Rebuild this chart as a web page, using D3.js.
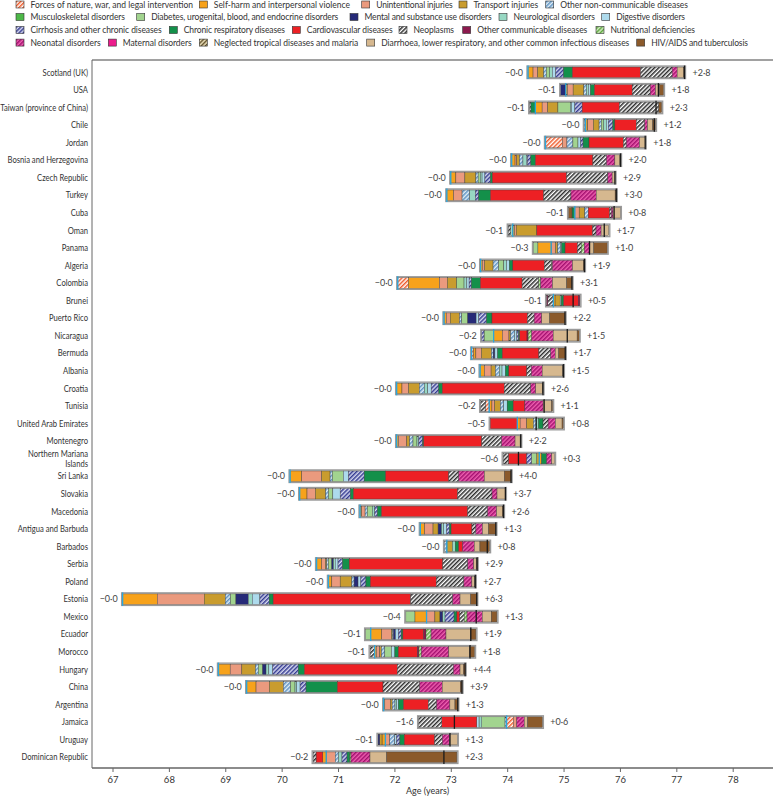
<!DOCTYPE html>
<html><head><meta charset="utf-8">
<script src="https://cdn.jsdelivr.net/npm/d3@7"></script>
<style>body{margin:0;background:#fff;}svg{display:block;font-family:Lato,"Open Sans",sans-serif;}</style>
</head><body><svg id="c" width="773" height="796"></svg>
<script>
// ---- data ----
const causeKeys = ["forces","self","unint","trans","oncd","musc","diab","ment","neur","dig","cirr","resp","cvd","neo","ocd","nutr","neon","mat","ntd","diar","hiv"];
const causeNames = ["Forces of nature, war, and legal intervention","Self-harm and interpersonal violence","Unintentional injuries","Transport injuries","Other non-communicable diseases","Musculoskeletal disorders","Diabetes, urogenital, blood, and endocrine disorders","Mental and substance use disorders","Neurological disorders","Digestive disorders","Cirrhosis and other chronic diseases","Chronic respiratory diseases","Cardiovascular diseases","Neoplasms","Other communicable diseases","Nutritional deficiencies","Neonatal disorders","Maternal disorders","Neglected tropical diseases and malaria","Diarrhoea, lower respiratory, and other common infectious diseases","HIV/AIDS and tuberculosis"];
const countries = ["Scotland (UK)","USA","Taiwan (province of China)","Chile","Jordan","Bosnia and Herzegovina","Czech Republic","Turkey","Cuba","Oman","Panama","Algeria","Colombia","Brunei","Puerto Rico","Nicaragua","Bermuda","Albania","Croatia","Tunisia","United Arab Emirates","Montenegro","Northern Mariana Islands","Sri Lanka","Slovakia","Macedonia","Antigua and Barbuda","Barbados","Serbia","Poland","Estonia","Mexico","Ecuador","Morocco","Hungary","China","Argentina","Jamaica","Uruguay","Dominican Republic"];
// life expectancy at which the gains start (blue marker)
const baseline = [74.37,75.04,74.50,75.39,74.68,74.08,73.00,72.93,75.20,74.10,74.78,73.53,72.06,74.82,72.88,73.76,73.37,73.52,72.04,73.68,74.18,72.04,74.57,70.15,70.32,71.39,72.46,72.93,70.62,70.83,67.18,72.57,71.58,71.65,68.88,69.38,71.81,73.99,71.84,70.79];
const negTotals = [0.0,0.1,0.1,0.0,0.0,0.0,0.0,0.0,0.1,0.1,0.3,0.0,0.0,0.1,0.0,0.2,0.0,0.0,0.0,0.2,0.5,0.0,0.6,0.0,0.0,0.0,0.0,0.0,0.0,0.0,0.0,0.4,0.1,0.1,0.0,0.0,0.0,1.6,0.1,0.2];
const posTotals = [2.8,1.8,2.3,1.2,1.8,2.0,2.9,3.0,0.8,1.7,1.0,1.9,3.1,0.5,2.2,1.5,1.7,1.5,2.6,1.1,0.8,2.2,0.3,4.0,3.7,2.6,1.3,0.8,2.9,2.7,6.3,1.3,1.9,1.8,4.4,3.9,1.3,0.6,1.3,2.3];
// gains by cause (years)
const gains = [
 {self:.089,unint:.083,trans:.106,oncd:.047,diab:.059,neur:.047,dig:.059,cirr:.142,resp:.154,cvd:1.21,neo:.56,neon:.089,diar:.112,hiv:.018},
 {self:.03,unint:.10,trans:.19,oncd:.047,neur:.035,dig:.035,resp:.07,cvd:.67,neo:.32,neon:.095,diar:.07,hiv:.07},
 {self:.12,unint:.10,trans:.18,diab:.22,neur:.02,dig:.06,cirr:.13,cvd:.66,neo:.70,hiv:.05},
 {self:.04,unint:.10,trans:.10,oncd:.04,diab:.04,neur:.05,dig:.035,cirr:.08,resp:.035,cvd:.38,neo:.15,neon:.05,diar:.09,hiv:.05},
 {forces:.30,unint:.08,oncd:.106,diab:.09,dig:.05,cirr:.04,resp:.106,cvd:.61,neo:.05,neon:.236,diar:.10},
 {self:.06,unint:.03,trans:.05,oncd:.06,neur:.06,dig:.02,cirr:.06,resp:.08,cvd:1.02,neo:.24,neon:.15,diar:.09,hiv:.01},
 {self:.09,unint:.16,trans:.195,oncd:.04,diab:.04,neur:.03,dig:.05,cirr:.10,resp:.03,cvd:1.32,neo:.73,neon:.077,diar:.05},
 {self:.12,unint:.15,oncd:.136,neur:.10,cirr:.06,resp:.207,cvd:.944,neo:.484,neon:.448,diar:.336,hiv:.02},
 {unint:.077,trans:.10,oncd:.06,cvd:.38,neo:.03,neon:.03,diar:.13},
 {self:.03,unint:.03,trans:.366,cvd:.99,neo:.06,neon:.09,diar:.136},
 {unint:.077,trans:.04,oncd:.05,dig:.02,resp:.06,cvd:.22,neo:.07,nutr:.05,neon:.10,diar:.07,hiv:.236},
 {self:.03,unint:.04,trans:.15,oncd:.10,diab:.09,neur:.05,dig:.05,resp:.06,cvd:.56,neo:.13,nutr:.01,neon:.36,diar:.19,hiv:.02},
 {forces:.19,self:.55,unint:.14,trans:.165,diab:.13,neur:.05,dig:.04,cirr:.04,resp:.16,cvd:.74,neo:.295,nutr:.035,neon:.21,diar:.25,hiv:.094},
 {self:.03,trans:.09,neur:.02,resp:.04,cvd:.26,ocd:.03},
 {self:.04,unint:.07,trans:.165,oncd:.04,diab:.106,ment:.148,dig:.047,cirr:.14,resp:.094,cvd:.63,neo:.118,neon:.136,diar:.142,hiv:.27},
 {self:.154,unint:.118,trans:.03,oncd:.07,dig:.04,cirr:.03,resp:.02,cvd:.13,ocd:.02,nutr:.06,neon:.384,diar:.425,hiv:.035},
 {forces:.035,self:.04,unint:.10,trans:.177,oncd:.03,ment:.03,dig:.05,resp:.08,cvd:.65,neo:.21,neon:.08,diar:.06,hiv:.118},
 {self:.077,unint:.118,trans:.077,oncd:.07,neur:.047,dig:.06,resp:.06,cvd:.32,neo:.077,neon:.195,diar:.366,hiv:.01},
 {self:.094,unint:.118,trans:.19,oncd:.09,neur:.06,dig:.06,cirr:.136,resp:.06,cvd:1.10,neo:.47,neon:.089,diar:.118,hiv:.01},
 {self:.05,unint:.05,trans:.10,oncd:.06,dig:.06,resp:.106,cvd:.207,neon:.325,diar:.148,hiv:.02},
 {self:.05,unint:.118,trans:.118,oncd:.05,neur:.04,resp:.08,neo:.09,neon:.13,diar:.118,hiv:.02},
 {self:.03,unint:.15,trans:.05,oncd:.06,diab:.07,neur:.03,cirr:.07,resp:.02,cvd:1.03,neo:.35,neon:.24,diar:.09,hiv:.01},
 {self:.04,resp:.09,neon:.09,diar:.05},
 {self:.207,unint:.354,trans:.148,oncd:.04,diab:.195,dig:.09,cirr:.28,resp:.38,cvd:1.12,neo:.177,neon:.455,diar:.355,hiv:.118},
 {self:.13,unint:.148,trans:.183,oncd:.05,diab:.077,dig:.13,cirr:.183,resp:.05,cvd:1.85,neo:.61,neon:.089,diar:.148},
 {self:.03,unint:.06,oncd:.04,diab:.09,neur:.04,cirr:.05,resp:.07,cvd:1.53,neo:.354,neon:.16,diar:.10,hiv:.02},
 {self:.077,unint:.148,trans:.09,ment:.06,neur:.04,dig:.05,cirr:.05,resp:.03,cvd:.37,neo:.07,neon:.118,diar:.106,hiv:.13},
 {trans:.10,neur:.05,resp:.06,cvd:.07,neon:.207,diar:.10,hiv:.17},
 {self:.09,unint:.07,trans:.02,oncd:.03,diab:.06,ment:.03,neur:.03,dig:.05,cirr:.08,resp:.118,cvd:1.66,neo:.443,neon:.106,diar:.05,hiv:.01},
 {self:.06,unint:.148,trans:.207,oncd:.04,ment:.07,dig:.05,cirr:.09,resp:.077,cvd:1.17,neo:.49,neon:.142,diar:.05,hiv:.01},
 {self:.614,unint:.833,trans:.372,oncd:.095,diab:.095,ment:.219,neur:.07,dig:.136,cirr:.165,resp:.07,cvd:2.44,neo:.745,neon:.13,diar:.19,hiv:.106},
 {unint:.148,trans:.09,ment:.05,neur:.04,cirr:.16,resp:.05,cvd:.05,neo:.08,nutr:.05,neon:.27,diar:.16,hiv:.10},
 {self:.195,unint:.17,trans:.02,oncd:.02,ment:.035,dig:.05,cirr:.05,resp:.03,cvd:.37,ocd:.04,nutr:.09,neon:.265,diar:.44,hiv:.09},
 {self:.03,unint:.06,trans:.03,oncd:.06,diab:.118,dig:.06,resp:.06,cvd:.337,ocd:.03,nutr:.04,neon:.49,diar:.366,hiv:.09},
 {self:.207,unint:.207,trans:.242,oncd:.05,diab:.077,ment:.06,neur:.05,dig:.068,cirr:.455,resp:.106,cvd:1.65,neo:.994,neon:.118,diar:.06,hiv:.03},
 {self:.166,unint:.236,trans:.248,oncd:.13,diab:.077,neur:.03,dig:.06,cirr:.106,resp:.555,cvd:.81,neo:.65,neon:.40,diar:.32,hiv:.03},
 {self:.02,unint:.10,trans:.03,oncd:.05,neur:.03,dig:.03,resp:.09,cvd:.44,neo:.148,neon:.236,diar:.09,hiv:.05},
 {forces:.118,unint:.06,neon:.136,diar:.06,hiv:.26},
 {unint:.077,oncd:.09,dig:.03,cirr:.06,resp:.077,cvd:.54,neo:.136,neon:.13,diar:.136},
 {unint:.16,oncd:.06,neur:.06,cirr:.09,resp:.05,nutr:.02,neon:.337,diar:.295,hiv:1.246}
];
// losses by cause (years, negative)
const losses = [
 {},{ment:-.09},{resp:-.08,neo:-.02},{oncd:-.02},{},{},{},{},{resp:-.05,hiv:-.06},{neur:-.04,neo:-.04},
 {self:-.236,diab:-.077},{},{},{neo:-.10,ocd:-.02},{},{diab:-.17,cirr:-.04},{},{},{},{forces:-.06,neo:-.09},
 {cvd:-.48},{},{trans:-.05,diab:-.09,cirr:-.09,cvd:-.32,neo:-.09},{},{},{},{},{oncd:-.04},{},{},
 {},{self:-.207,diab:-.16},{diab:-.09},{neo:-.08},{},{},{},{oncd:-.03,diab:-.41,neur:-.05,dig:-.04,cvd:-.62,neo:-.41},{self:-.06,trans:-.04,ment:-.03},{self:-.06,cvd:-.12,neo:-.05}
];
const xTicks = [67,68,69,70,71,72,73,74,75,76,77,78];

// ---- styles ----
const solid = {self:"#F7A21B",unint:"#EA9A7E",trans:"#C99C2E",musc:"#4DB848",diab:"#A2D48F",ment:"#262A78",neur:"#98D8C3",dig:"#ADDAEC",resp:"#13904A",cvd:"#ED2024",ocd:"#8C1A4E",mat:"#EC1C8C",diar:"#D6B88F",hiv:"#8B5A2B"};
const hatch = {forces:["#ffffff","#EF5B2B"],oncd:["#E0EDF6","#5F93C2"],cirr:["#D8DBF0","#363C92"],neo:["#ffffff","#2a2a2a"],nutr:["#D9EDC9","#5BA83D"],neon:["#EE60B0","#A3106F"],ntd:["#F6EAC4","#5E4E28"]};

(function draw(){
const svg = d3.select("#c");
const defs = svg.append("defs");
Object.entries(hatch).forEach(([k,[bg,fg]])=>{
  const p = defs.append("pattern").attr("id","h-"+k).attr("patternUnits","userSpaceOnUse")
    .attr("width",3).attr("height",3).attr("patternTransform","rotate(45)");
  p.append("rect").attr("width",3).attr("height",3).attr("fill",bg);
  p.append("rect").attr("width",1.5).attr("height",3).attr("fill",fg);
});
const fillOf = k => hatch[k] ? `url(#h-${k})` : solid[k];
const condenseNode = (node, f) => {
  const L = node.getComputedTextLength();
  if (L > 0) d3.select(node).attr("textLength", L*f).attr("lengthAdjust","spacingAndGlyphs");
};

const x = d3.scaleLinear().domain([67,78]).range([112.5,732.7]);
const y = d3.scalePoint().domain(countries).range([72.3,757.2]);
const barH = 10.5;
const fmt = v => v.toFixed(1).replace(".","·");

// ---- legend: [cause index, swatch x, text end x] ----
const legendRows = [
  [[0,16,193],[1,199.3,350],[2,361.7,452.7],[3,459,538.3],[4,545.7,688]],
  [[5,16,125],[6,136.7,338.3],[7,350,491.7],[8,499,595],[9,601.7,685]],
  [[10,16,161.7],[11,169.3,285],[12,292.3,392.7],[13,399,454],[14,462.7,587.3],[15,596,695]],
  [[16,16,100.7],[17,108.3,191.7],[18,199.3,358.3],[19,366.7,629.3],[20,636.7,748]]
];
const legendY = [4.5,17,30,42.6];
const lg = svg.append("g");
legendRows.forEach((row,ri)=>row.forEach(([ci,lx,ex])=>{
  lg.append("rect").attr("x",lx).attr("y",legendY[ri]-3.5).attr("width",8).attr("height",7)
    .attr("fill",fillOf(causeKeys[ci])).attr("stroke","#333").attr("stroke-width",0.6);
  lg.append("text").attr("x",lx+14.5).attr("y",legendY[ri]+3).attr("font-size",8.5).attr("fill","#333")
    .attr("textLength",ex-(lx+14.5)).attr("lengthAdjust","spacing")
    .text(causeNames[ci]);
}));

// ---- frame ----
const fL = 92, fR = 773, fT = 60, fB = 768;
svg.append("line").attr("x1",fL).attr("x2",fR).attr("y1",fT).attr("y2",fT).attr("stroke","#444").attr("stroke-width",1.2);
svg.append("line").attr("x1",fL).attr("x2",fL).attr("y1",fT).attr("y2",fB).attr("stroke","#666").attr("stroke-width",1);

const ax = svg.append("g").attr("transform",`translate(0,${fB})`)
  .call(d3.axisBottom(x).tickValues(xTicks).tickFormat(d3.format("d")).tickSize(4).tickSizeOuter(0));
ax.select(".domain").remove();
ax.selectAll(".tick line").attr("stroke","#666");
ax.selectAll(".tick text").attr("font-size",9.5).attr("fill","#333").attr("font-family","Lato,sans-serif")
  .attr("y",14.5).attr("dy",0);
svg.append("line").attr("x1",fL).attr("x2",fR).attr("y1",fB).attr("y2",fB).attr("stroke","#666").attr("stroke-width",1.4);
svg.append("text").attr("x",406).attr("y",794).attr("font-size",9).attr("fill","#333").text("Age (years)");

// country labels (compressed horizontally to mimic the narrow original typeface)
svg.append("g").selectAll("text").data(countries).join("text")
  .attr("x",88).attr("y",d=>y(d)+3.2).attr("text-anchor","end").attr("font-size",9.2).attr("fill","#333")
  .each(function(d){
    const t = d3.select(this);
    if(d==="Northern Mariana Islands"){
      t.attr("y",y(d)-1.8);
      const a = t.append("tspan").attr("x",88).text("Northern Mariana");
      const b2 = t.append("tspan").attr("x",88).attr("dy","1.1em").text("Islands");
      condenseNode(a.node(),0.83); condenseNode(b2.node(),0.83);
    } else { t.text(d); condenseNode(this,0.83); }
  });

// ---- bars ----
const rows = svg.append("g");
countries.forEach((c,i)=>{
  const b = baseline[i], yc = y(c);
  const segs = [];
  let pos = b;
  causeKeys.forEach(k=>{ const v = gains[i][k]; if(v){ segs.push({k,x0:pos,x1:pos+v}); pos+=v; }});
  let neg = b;
  causeKeys.forEach(k=>{ const v = losses[i][k]; if(v){ segs.push({k,x0:neg+v,x1:neg}); neg+=v; }});
  const end = b + d3.sum(Object.values(gains[i])) + d3.sum(Object.values(losses[i]));
  const g = rows.append("g");
  g.append("rect").attr("x",x(neg)-1).attr("y",yc-barH/2-1).attr("width",x(pos)-x(neg)+2).attr("height",barH+2)
    .attr("fill","none").attr("stroke","#9a9a9a").attr("stroke-width",1.4);
  g.selectAll("rect.s").data(segs).join("rect").attr("class","s")
    .attr("x",d=>x(d.x0)).attr("y",yc-barH/2).attr("width",d=>Math.max(0,x(d.x1)-x(d.x0))).attr("height",barH)
    .attr("fill",d=>fillOf(d.k)).attr("stroke","#3a3a3a").attr("stroke-width",0.4);
  g.append("line").attr("x1",x(b)).attr("x2",x(b)).attr("y1",yc-barH/2-1.5).attr("y2",yc+barH/2+1.5)
    .attr("stroke","#2AA7DF").attr("stroke-width",1.3);
  g.append("line").attr("x1",x(end)).attr("x2",x(end)).attr("y1",yc-barH/2-1.5).attr("y2",yc+barH/2+1.5)
    .attr("stroke","#1a1a1a").attr("stroke-width",1.3);
  g.append("text").attr("x",x(neg)-5).attr("y",yc+3.2).attr("text-anchor","end").attr("font-size",9).attr("fill","#444")
    .text("−"+fmt(negTotals[i]));
  g.append("text").attr("x",x(pos)+8).attr("y",yc+3.2).attr("font-size",9).attr("fill","#444")
    .text("+"+fmt(posTotals[i]));
});
})();
</script></body></html>
